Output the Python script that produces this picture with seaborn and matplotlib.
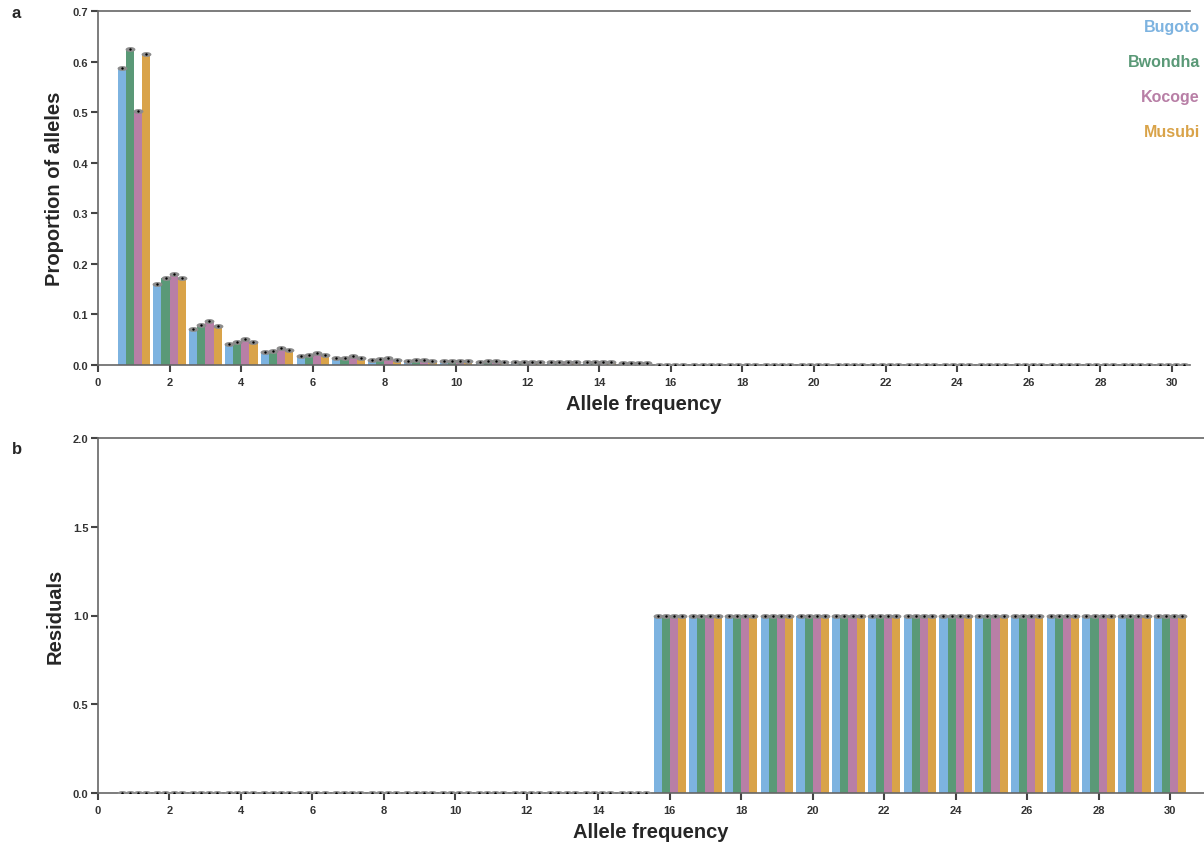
import numpy as np
import pandas as pd
import matplotlib
matplotlib.use("Agg")
import matplotlib.pyplot as plt
import seaborn as sns
from matplotlib.path import Path

populations = ["Bugoto", "Bwondha", "Kocoge", "Musubi"]
colors = ["#7db3e0", "#5a9977", "#b87fa6", "#d9a349"]
allele_freq = list(range(1, 31))

prop_bugoto = [0.588, 0.160, 0.072, 0.042, 0.025, 0.017, 0.013, 0.010, 0.008, 0.007,
               0.006, 0.006, 0.006, 0.006, 0.003] + [0.0005] * 15
prop_bwondha = [0.625, 0.172, 0.079, 0.046, 0.028, 0.020, 0.014, 0.011, 0.009, 0.008,
                0.007, 0.006, 0.006, 0.006, 0.003] + [0.0005] * 15
prop_kocoge = [0.503, 0.179, 0.087, 0.052, 0.033, 0.024, 0.017, 0.013, 0.010, 0.008,
               0.007, 0.006, 0.006, 0.006, 0.003] + [0.0005] * 15
prop_musubi = [0.615, 0.172, 0.078, 0.045, 0.029, 0.019, 0.014, 0.010, 0.008, 0.007,
               0.006, 0.006, 0.006, 0.006, 0.003] + [0.0005] * 15

resid_bugoto = [0.0] * 15 + [1.0] * 15
resid_bwondha = [0.0] * 15 + [1.0] * 15
resid_kocoge = [0.0] * 15 + [1.0] * 15
resid_musubi = [0.0] * 15 + [1.0] * 15

def make_df(series):
    rows = []
    for pop, vals in zip(populations, series):
        for f, v in zip(allele_freq, vals):
            rows.append({"freq": f, "value": v, "pop": pop})
    return pd.DataFrame(rows)

df_top = make_df([prop_bugoto, prop_bwondha, prop_kocoge, prop_musubi])
df_bot = make_df([resid_bugoto, resid_bwondha, resid_kocoge, resid_musubi])

sns.set_style("ticks")
plt.rcParams["font.family"] = ["Liberation Sans", "DejaVu Sans"]
plt.rcParams["font.weight"] = "bold"

W, H = 1204, 845
fig = plt.figure(figsize=(W / 100, H / 100), dpi=100)
ax1 = fig.add_axes([98 / W, 1 - 366 / H, (1190 - 98) / W, (366 - 12) / H])
ax2 = fig.add_axes([98 / W, 1 - 794 / H, (1204 - 98) / W, (794 - 439) / H])

theta = np.linspace(0, 2 * np.pi, 40)
ell = Path(np.column_stack([np.cos(theta), 0.5 * np.sin(theta)]))

spine_col = "#666666"
for ax, df, ylim, yticks, ylabel, xmax in [
    (ax1, df_top, (0, 0.7), np.arange(0, 0.71, 0.1), "Proportion of alleles", 30.5),
    (ax2, df_bot, (0, 2.0), np.arange(0, 2.01, 0.5), "Residuals", 30.95),
]:
    sns.barplot(data=df, x="freq", y="value", hue="pop", palette=colors,
                native_scale=True, width=0.91, errorbar=None, ax=ax,
                saturation=1, legend=False, linewidth=0)
    xs, ys = [], []
    for p in ax.patches:
        xs.append(p.get_x() + p.get_width() / 2)
        ys.append(p.get_height())
    ax.scatter(xs, ys, marker=ell, s=50, color="#8c8c8c", zorder=3, linewidths=0)
    ax.scatter(xs, ys, marker="o", s=3, color="black", zorder=4, linewidths=0)
    ax.set_xlim(0, xmax)
    ax.set_ylim(*ylim)
    ax.set_xticks(range(0, 31, 2))
    ax.set_yticks(yticks)
    ax.set_yticklabels([f"{v:.1f}" for v in yticks])
    ax.set_xlabel("Allele frequency", fontsize=14.5, fontweight="bold", labelpad=5)
    ax.set_ylabel(ylabel, fontsize=14.5, fontweight="bold", labelpad=6)
    ax.tick_params(axis="both", labelsize=8, length=5, width=1.5, color="#444444")
    ax.tick_params(axis="x", pad=4)
    ax.tick_params(axis="y", pad=2)
    for lab in ax.get_xticklabels() + ax.get_yticklabels():
        lab.set_fontweight("bold")
        lab.set_color("#333333")
    ax.spines["right"].set_visible(False)
    for s in ["top", "left", "bottom"]:
        ax.spines[s].set_color(spine_col)
        ax.spines[s].set_linewidth(1.2)

for i, (pop, c) in enumerate(zip(populations, colors)):
    ax1.text(1.009, 0.955 - i * 0.098, pop, transform=ax1.transAxes, ha="right",
             va="center", color=c, fontsize=11.5, fontweight="bold")

fig.text(12 / W, 1 - 13 / H, "a", fontsize=12, fontweight="bold", va="center")
fig.text(12 / W, 1 - 450 / H, "b", fontsize=12, fontweight="bold", va="center")

fig.savefig("out.png", dpi=100)
